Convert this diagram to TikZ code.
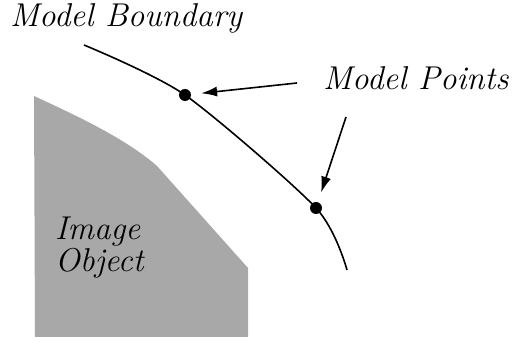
\documentclass[tikz,border=0pt]{standalone}
\usetikzlibrary{arrows.meta}
\definecolor{objgray}{RGB}{168,168,168}
\tikzset{
  lbl/.style={inner sep=0pt, anchor=base west, font=\itshape\fontsize{33}{33}\selectfont},
  mpoint/.style={circle, fill=black, inner sep=0pt, minimum size=12pt},
  bline/.style={line width=1.6pt},
  parrow/.style={line width=1.6pt, shorten >=10pt, -{Latex[length=16pt,width=10pt]}}
}
\begin{document}
\begin{tikzpicture}[x=1pt,y=-1pt]
\useasboundingbox (0,0) rectangle (512,344);
% image object region
\fill[objgray] (34,96) .. controls (75,115) and (125,138) .. (157,166) -- (248,268) -- (248,337) -- (35,337) -- cycle;
% labels
\node[lbl] (mb) at (10,27) {Model Boundary};
\node[lbl] (mp) at (323,90) {Model Points};
\node[lbl] (im) at (55,240) {Image};
\node[lbl] (ob) at (55,272) {Object};
% boundary curve
\coordinate (bs) at (84,45);
\coordinate (be) at (347,270);
\node[mpoint] (p1) at (185,95) {};
\node[mpoint] (p2) at (316,208) {};
\draw[bline] plot[smooth, tension=0.45] coordinates {(bs) (p1.center) (p2.center) (be)};
% arrows
\coordinate (a1) at (297,83);
\coordinate (a2) at (346,117);
\draw[parrow] (a1) -- (p1);
\draw[parrow] (a2) -- (p2);
\end{tikzpicture}
\end{document}
